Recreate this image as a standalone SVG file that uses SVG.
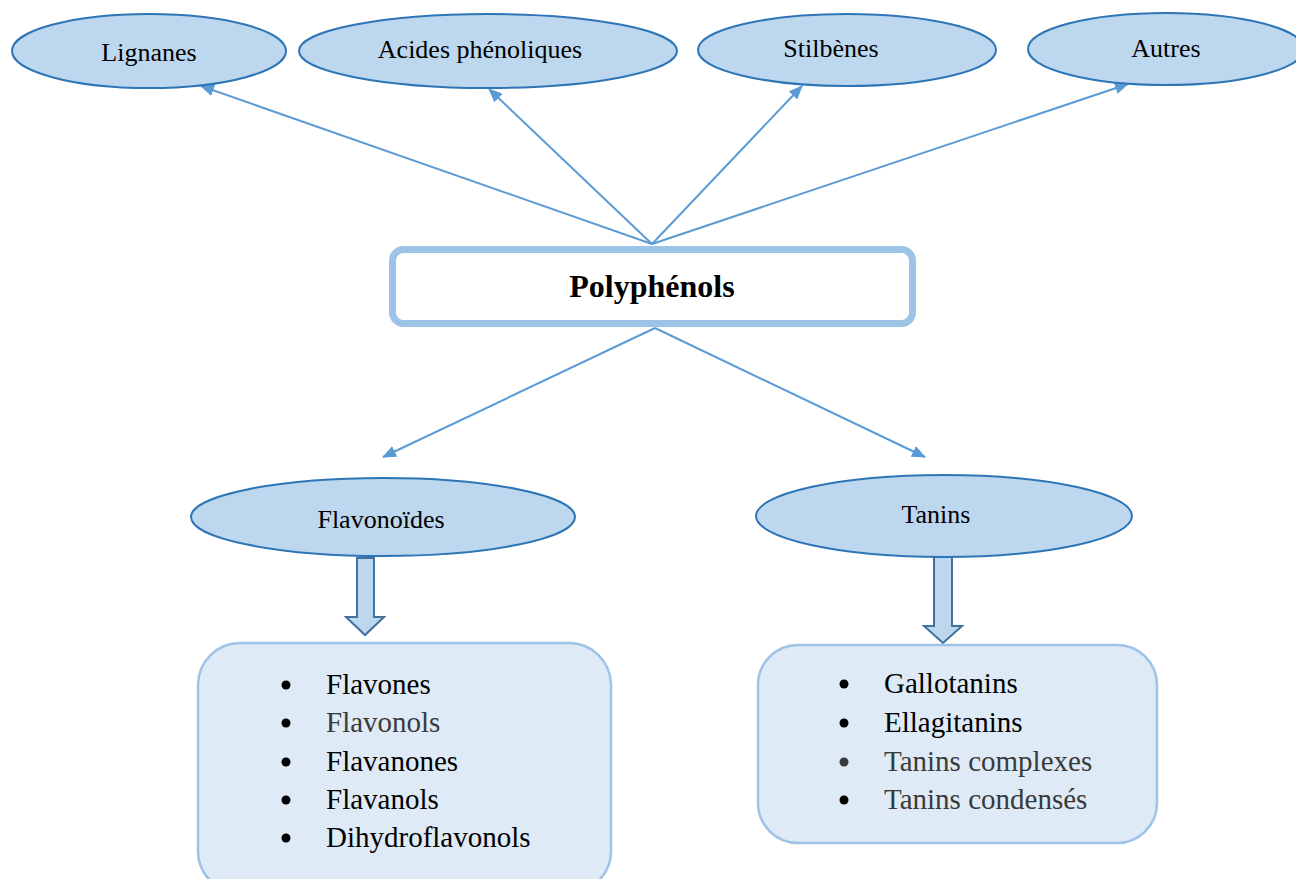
<svg xmlns="http://www.w3.org/2000/svg" width="1296" height="879" viewBox="0 0 1296 879">
<style>
.ell{fill:#BDD7EE;stroke:#2E75B6;stroke-width:2}
.lbl{font-family:"Liberation Serif","Times New Roman",serif;font-size:26px;fill:#000;text-anchor:middle}
.item{font-family:"Liberation Serif","Times New Roman",serif;font-size:29px;fill:#000}
.grey{fill:#3a3a3a}
.conn{stroke:#5B9BD5;stroke-width:2;fill:none;marker-end:url(#ah)}
.box{fill:#DEEAF6;stroke:#9DC3E6;stroke-width:2.5}
.blk{fill:#BDD7EE;stroke:#41719C;stroke-width:2}
</style>
<defs>
<marker id="ah" viewBox="0 0 14 12" refX="13" refY="6" markerWidth="14" markerHeight="12" markerUnits="userSpaceOnUse" orient="auto">
<path d="M0,0 L14,6 L0,12 z" fill="#5B9BD5"/>
</marker>
</defs>
<rect width="1296" height="879" fill="#fff"/>
<g id="connectors">
<line class="conn" x1="652" y1="244" x2="201" y2="86"/>
<line class="conn" x1="652" y1="244" x2="489" y2="89"/>
<line class="conn" x1="652" y1="244" x2="802" y2="86"/>
<line class="conn" x1="652" y1="244" x2="1128" y2="84"/>
<line class="conn" x1="655" y1="328" x2="383" y2="457"/>
<line class="conn" x1="655" y1="328" x2="925" y2="457"/>
<path class="blk" d="M357,558 H374 V617 H384 L365,635 L346,617 H357 Z"/>
<path class="blk" d="M934,557 H952 V626 H962 L943,643 L924,626 H934 Z"/>
</g>
<g id="lignanes"><ellipse class="ell" cx="149" cy="51" rx="137" ry="37"/><text class="lbl" font-family="Liberation Serif, serif" x="149" y="61">Lignanes</text></g>
<g id="acides"><ellipse class="ell" cx="488" cy="51" rx="189" ry="37"/><text class="lbl" font-family="Liberation Serif, serif" x="480" y="58">Acides phénoliques</text></g>
<g id="stilbenes"><ellipse class="ell" cx="847" cy="50" rx="149" ry="36"/><text class="lbl" font-family="Liberation Serif, serif" x="831" y="57">Stilbènes</text></g>
<g id="autres"><ellipse class="ell" cx="1166" cy="49" rx="138" ry="36"/><text class="lbl" font-family="Liberation Serif, serif" x="1166" y="57">Autres</text></g>
<g id="polyphenols"><rect x="392.5" y="249.5" width="520" height="74" rx="11" fill="#fff" stroke="#9DC3E6" stroke-width="7"/><text x="652" y="297" font-family="Liberation Serif, Times New Roman, serif" font-size="32" font-weight="bold" text-anchor="middle">Polyphénols</text></g>
<g id="flavonoides"><ellipse class="ell" cx="383" cy="517" rx="192" ry="39"/><text class="lbl" font-family="Liberation Serif, serif" x="381" y="528">Flavonoïdes</text></g>
<g id="tanins"><ellipse class="ell" cx="944" cy="516" rx="188" ry="41"/><text class="lbl" font-family="Liberation Serif, serif" x="936" y="523">Tanins</text></g>
<g id="flav-list" font-family="Liberation Serif, serif" font-size="29">
<rect class="box" x="198" y="643" width="413" height="250" rx="42"/>
<circle cx="286" cy="685" r="4.5"/><text class="item" font-family="Liberation Serif, serif" x="326" y="694">Flavones</text>
<circle cx="286" cy="723" r="4.5"/><text class="item grey" font-family="Liberation Serif, serif" x="326" y="732">Flavonols</text>
<circle cx="286" cy="762" r="4.5"/><text class="item" font-family="Liberation Serif, serif" x="326" y="771">Flavanones</text>
<circle cx="286" cy="800" r="4.5"/><text class="item" font-family="Liberation Serif, serif" x="326" y="809">Flavanols</text>
<circle cx="286" cy="838" r="4.5"/><text class="item" font-family="Liberation Serif, serif" x="326" y="847">Dihydroflavonols</text>
</g>
<g id="tan-list" font-family="Liberation Serif, serif" font-size="29">
<rect class="box" x="758" y="645" width="399" height="198" rx="40"/>
<circle cx="844" cy="684" r="4.5"/><text class="item" font-family="Liberation Serif, serif" x="884" y="693">Gallotanins</text>
<circle cx="844" cy="723" r="4.5"/><text class="item" font-family="Liberation Serif, serif" x="884" y="732">Ellagitanins</text>
<circle cx="844" cy="762" r="4.5" class="grey"/><text class="item grey" font-family="Liberation Serif, serif" x="884" y="771">Tanins complexes</text>
<circle cx="844" cy="800" r="4.5"/><text class="item grey" font-family="Liberation Serif, serif" x="884" y="809">Tanins condensés</text>
</g>
</svg>
